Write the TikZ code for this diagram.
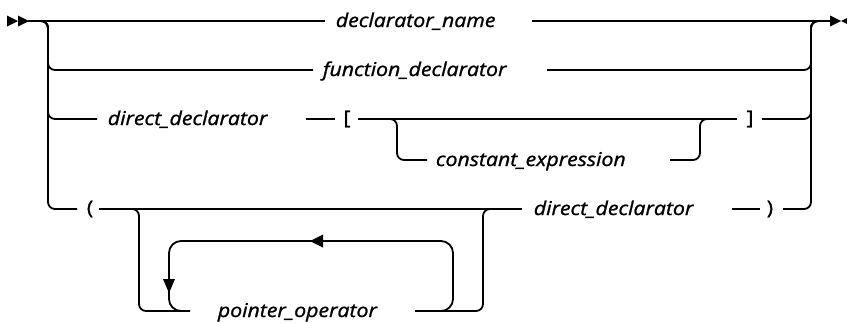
\documentclass[tikz,border=0pt]{standalone}
\usepackage{fontspec}
\setmainfont[FakeStretch=1.12,FakeBold=1.2]{Open Sans}
\begin{document}
\begin{tikzpicture}[x=1pt,y=-1pt,line width=1.8pt,
  lbl/.style={font=\fontsize{19}{22}\selectfont\itshape,inner sep=0pt,anchor=base west},
  sym/.style={font=\fontsize{19}{22}\selectfont,inner sep=0pt},
  rail/.style={rounded corners=7pt},
  lp/.style={rounded corners=12pt}]
\useasboundingbox (0,0) rectangle (847,322);
% markers
\fill (7,15.5) -- (18,21) -- (7,26.5) -- cycle;
\fill (18,15.5) -- (29,21) -- (18,26.5) -- cycle;
\fill (830,15.5) -- (841,21) -- (830,26.5) -- cycle;
\fill (852,15.5) -- (841,21) -- (852,26.5) -- cycle;
% labels
\node[lbl] (dn) at (335,27) {declarator\_name};
\node[lbl] (fd) at (322,76) {function\_declarator};
\node[lbl] (dd1) at (107,125) {direct\_declarator};
\node[lbl] (ce) at (435,166) {constant\_expression};
\node[lbl] (dd2) at (533,215) {direct\_declarator};
\node[lbl] (po) at (217,317) {pointer\_operator};
\node[sym] (lb) at (347,119) {[};
\node[sym] (rb) at (750,119) {]};
\node[sym] (lpar) at (90,209) {(};
\node[sym] (rpar) at (770,209) {)};
% row 1
\draw (28,21) -- (325,21);
\draw (532,21) -- (830,21);
% left branches
\draw[rail] (38,21) -- (48,21) -- (48,70) -- (313,70);
\draw[rail] (38,21) -- (48,21) -- (48,119) -- (97,119);
\draw[rail] (38,21) -- (48,21) -- (48,209) -- (77,209);
% right branches
\draw[rail] (547,70) -- (811,70) -- (811,21) -- (821,21);
\draw[rail] (762,119) -- (811,119) -- (811,21) -- (821,21);
\draw[rail] (783,209) -- (811,209) -- (811,21) -- (821,21);
% row 3
\draw (306,119) -- (335,119);
\draw (358,119) -- (737,119);
\draw[rail] (388,119) -- (397,119) -- (397,160) -- (427,160);
\draw[rail] (670,160) -- (700,160) -- (700,119) -- (710,119);
% row 4
\draw (99,209) -- (522,209);
\draw (732,209) -- (760,209);
\draw[rail] (129,209) -- (139,209) -- (139,311) -- (188,311);
\draw[rail] (415,311) -- (483,311) -- (483,209) -- (493,209);
% loop
\draw[lp] (430,311) -- (453,311) -- (453,241) -- (169,241) -- (169,311) -- (190,311);
\fill (310,241) -- (323,234.5) -- (323,247.5) -- cycle;
\fill (169,293) -- (163,279) -- (175,279) -- cycle;
\end{tikzpicture}
\end{document}
